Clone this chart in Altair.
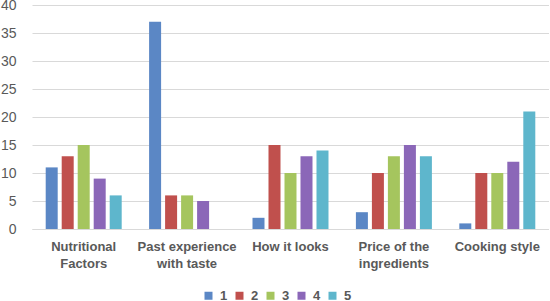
import altair as alt
import pandas as pd

categories = ["Nutritional\nFactors", "Past experience\nwith taste", "How it looks",
              "Price of the\ningredients", "Cooking style"]
series_names = ["1", "2", "3", "4", "5"]
s1 = [11, 37, 2, 3, 1]
s2 = [13, 6, 15, 10, 10]
s3 = [15, 6, 10, 13, 10]
s4 = [9, 5, 13, 15, 12]
s5 = [6, 0, 14, 13, 21]
colors = ["#5B87C5", "#C0504D", "#A5C55E", "#8B67B8", "#5EB6CC"]

rows = []
for name, vals in zip(series_names, [s1, s2, s3, s4, s5]):
    for c, v in zip(categories, vals):
        rows.append({"category": c, "series": name, "value": v})
df = pd.DataFrame(rows)

gray = "#595959"

chart = alt.Chart(df).mark_bar().encode(
    x=alt.X("category:N", sort=categories, title=None,
            scale=alt.Scale(paddingInner=0.265, paddingOuter=0.1325),
            axis=alt.Axis(labelAngle=0, labelExpr="split(datum.label, '\\n')",
                          labelFont="Liberation Sans", labelFontSize=13,
                          labelFontWeight="bold", labelColor=gray,
                          labelBaseline="top", labelPadding=11, labelLineHeight=17,
                          ticks=False, domainColor="#D9D9D9", domainWidth=1,
                          grid=False)),
    xOffset=alt.XOffset("series:N", sort=series_names,
                        scale=alt.Scale(paddingInner=0.25, paddingOuter=0)),
    y=alt.Y("value:Q", title=None,
            scale=alt.Scale(domain=[0, 40], nice=False),
            axis=alt.Axis(values=[0, 5, 10, 15, 20, 25, 30, 35, 40],
                          labelFont="Liberation Sans", labelFontSize=14,
                          labelColor=gray, labelPadding=16, ticks=False,
                          domain=False, gridColor="#D9D9D9", gridWidth=1)),
    color=alt.Color("series:N", sort=series_names,
                    scale=alt.Scale(domain=series_names, range=colors),
                    legend=alt.Legend(orient="none", legendX=170, legendY=284,
                                      direction="horizontal", title=None,
                                      symbolType="square", symbolSize=64,
                                      symbolStrokeWidth=0,
                                      labelFont="Liberation Sans", labelFontSize=13,
                                      labelFontWeight="bold", labelColor=gray,
                                      columnPadding=5, labelOffset=5)),
).properties(
    width=517, height=224,
    background="white",
    autosize=alt.AutoSizeParams(type="none"),
    padding={"left": 32, "top": 5, "right": 0, "bottom": 72},
).configure_view(strokeOpacity=0, strokeWidth=0)

chart.save("out.html", embed_options={"renderer": "svg", "actions": False})
